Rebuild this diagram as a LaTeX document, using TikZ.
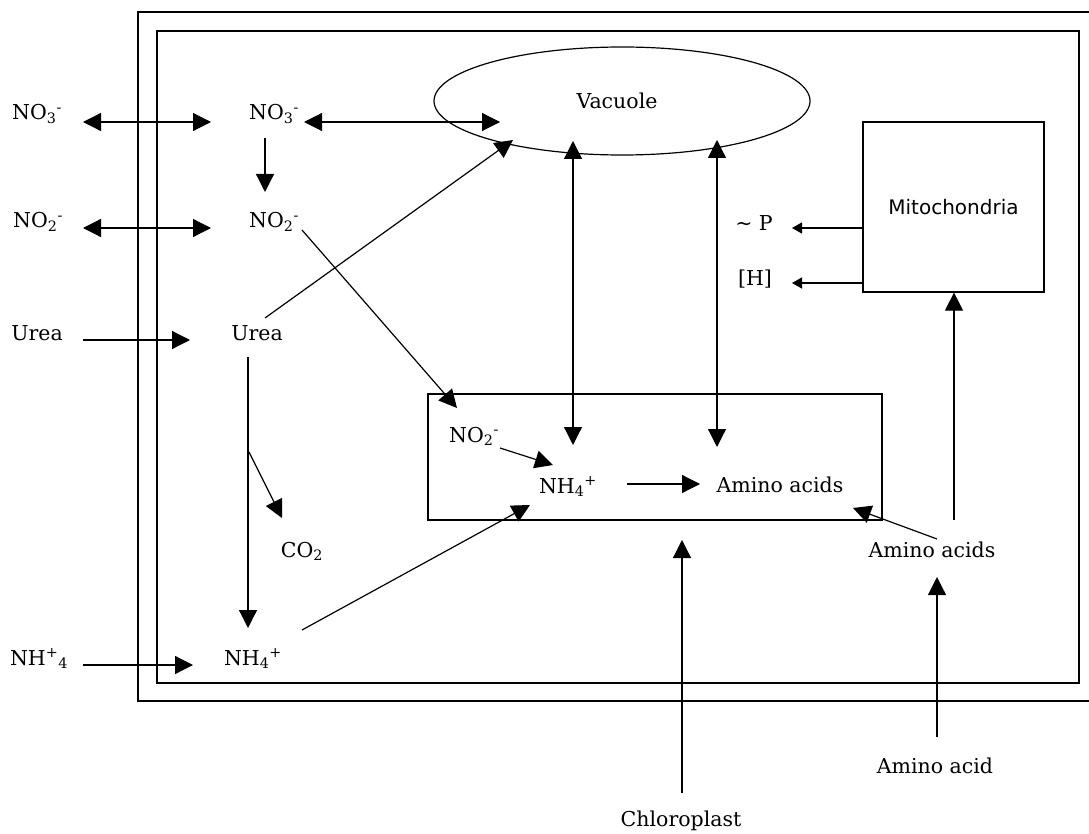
\documentclass[tikz,border=0pt]{standalone}
\usepackage{fontspec}
\setmainfont{DejaVu Serif}
\newfontfamily\mitofont{DejaVu Sans}
\usetikzlibrary{arrows.meta,shapes.geometric,calc}
\begin{document}
\begin{tikzpicture}[x=1pt,y=-1pt,
  lbl/.style={anchor=base,inner sep=0pt,font=\fontsize{20.5}{24}\selectfont},
  ln/.style={line width=1.2pt},
  arr/.style={ln,-{Triangle[length=18pt,width=18pt]}},
  dbl/.style={ln,{Triangle[length=18pt,width=18pt]}-{Triangle[length=18pt,width=18pt]}},
  sarr/.style={ln,-{Triangle[length=10pt,width=11pt]}},
  box/.style={draw,ln,rectangle,inner sep=0pt},
]
\useasboundingbox (0,0) rectangle (1089,834);

% membranes
\draw[ln] (1095,12) -- (138,12) -- (138,701) -- (1095,701);
\node[box,minimum width=922pt,minimum height=652pt] (cell) at (618,357) {};

% organelles
\node[draw,ln,ellipse,inner sep=0pt,minimum width=376pt,minimum height=108pt] (vac) at (622,101) {};
\node[lbl] (vacL) at (617,109) {Vacuole};
\node[box,minimum width=181pt,minimum height=170pt,
      font=\mitofont\fontsize{20}{24}\selectfont] (mito) at (953.5,207) {Mitochondria};
\node[box,minimum width=454pt,minimum height=126pt] (chl) at (655,457) {};

% labels
\node[lbl] (no3L) at (37,120) {NO\textsubscript{3}\textsuperscript{-}};
\node[lbl] (no3R) at (274,120) {NO\textsubscript{3}\textsuperscript{-}};
\node[lbl] (no2L) at (38,228) {NO\textsubscript{2}\textsuperscript{-}};
\node[lbl] (no2R) at (274,228) {NO\textsubscript{2}\textsuperscript{-}};
\node[lbl] (ureaL) at (37,340) {Urea};
\node[lbl] (ureaR) at (257,340) {Urea};
\node[lbl] (nh4L) at (39,665) {NH\textsuperscript{+}\textsubscript{4}};
\node[lbl] (nh4R) at (253,665) {NH\textsubscript{4}\textsuperscript{+}};
\node[lbl] (co2) at (302,557) {CO\textsubscript{2}};
\node[lbl] (tp) at (754,231) {\textasciitilde\ P};
\node[lbl] (hh) at (755,285) {[H]};
\node[lbl] (no2C) at (474,442) {NO\textsubscript{2}\textsuperscript{-}};
\node[lbl] (nh4C) at (568,493) {NH\textsubscript{4}\textsuperscript{+}};
\node[lbl] (aaC) at (780,492) {Amino acids};
\node[lbl] (aaO) at (932,557) {Amino acids};
\node[lbl] (aa) at (935,773) {Amino acid};
\node[lbl] (chlL) at (681,826) {Chloroplast};

% connector end points
\coordinate (a1) at (83,122);  \coordinate (a2) at (211,122);
\coordinate (b1) at (83,228);  \coordinate (b2) at (211,228);
\coordinate (c1) at (83,340);  \coordinate (c2) at (190,340);
\coordinate (d1) at (83,665);  \coordinate (d2) at (193,665);
\coordinate (e1) at (265,138); \coordinate (e2) at (265,192);
\coordinate (f1) at (304,122); \coordinate (f2) at (500,122);
\coordinate (g1) at (265,318); \coordinate (g2) at (513,140);
\coordinate (h1) at (302,230); \coordinate (h2) at (457,408);
\coordinate (i1) at (248,357); \coordinate (i2) at (248,628);
\coordinate (j1) at (249,452); \coordinate (j2) at (282,518);
\coordinate (k1) at (302,630); \coordinate (k2) at (530,505);
\coordinate (l1) at (573,141); \coordinate (l2) at (573,445);
\coordinate (m1) at (717,140); \coordinate (m2) at (717,447);
\coordinate (n1) at (500,448); \coordinate (n2) at (553,465);
\coordinate (o1) at (627,484); \coordinate (o2) at (700,484);
\coordinate (q1) at (937,539); \coordinate (q2) at (853,508);
\coordinate (r1) at (954,520);
\coordinate (s1) at (937,737); \coordinate (s2) at (937,577);
\coordinate (t1) at (682,793); \coordinate (t2) at (682,540);
\coordinate (u2) at (792,228);
\coordinate (v2) at (792,283);

% connectors
\draw[dbl] (a1) -- (a2);
\draw[dbl] (b1) -- (b2);
\draw[arr] (c1) -- (c2);
\draw[arr] (d1) -- (d2);
\draw[arr] (e1) -- (e2);
\draw[dbl] (f1) -- (f2);
\draw[arr] (g1) -- (g2);
\draw[arr] (h1) -- (h2);
\draw[arr] (i1) -- (i2);
\draw[arr] (j1) -- (j2);
\draw[arr] (k1) -- (k2);
\draw[dbl] (l1) -- (l2);
\draw[dbl] (m1) -- (m2);
\draw[arr] (n1) -- (n2);
\draw[arr] (o1) -- (o2);
\draw[arr] (q1) -- (q2);
\draw[arr] (r1) -- (r1 |- mito.south);
\draw[arr] (s1) -- (s2);
\draw[arr] (t1) -- (t2);
\draw[sarr] (mito.west |- u2) -- (u2);
\draw[sarr] (mito.west |- v2) -- (v2);
\end{tikzpicture}
\end{document}
